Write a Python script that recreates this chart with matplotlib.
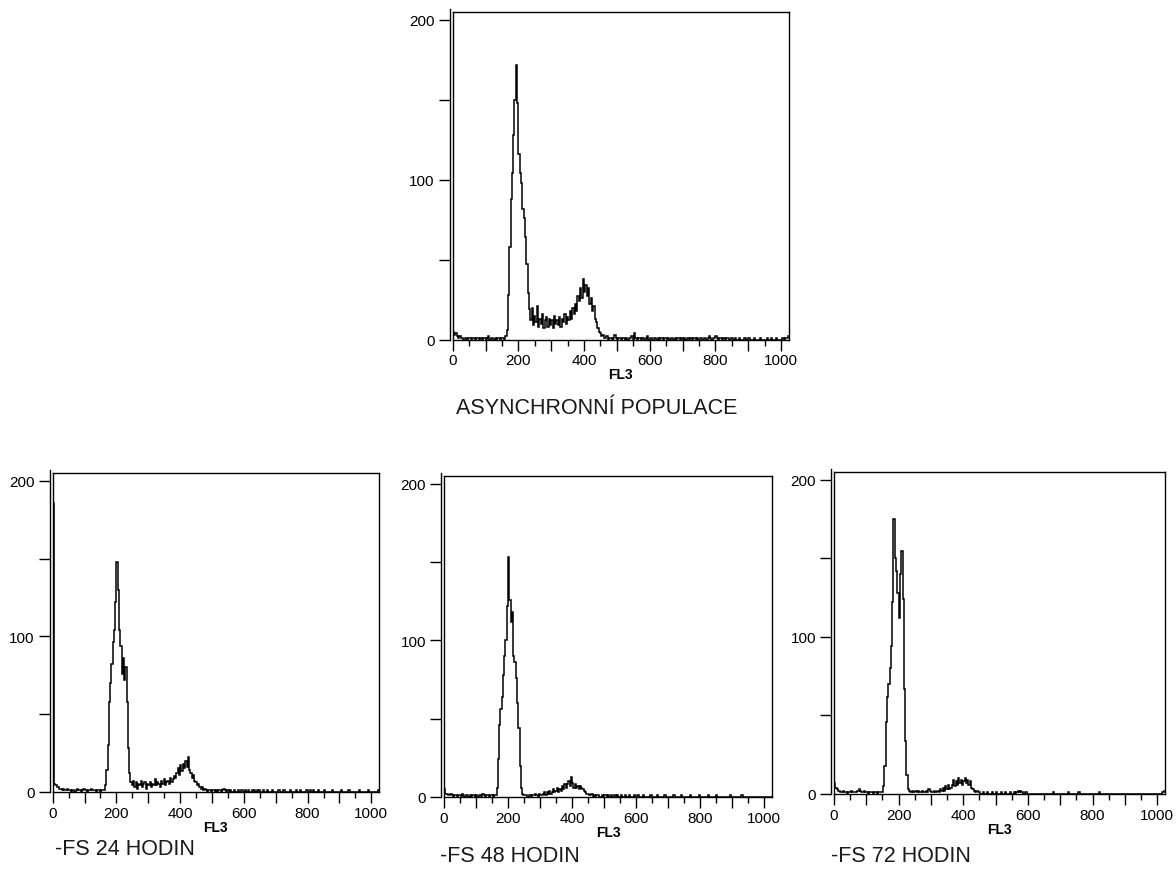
import numpy as np
import matplotlib.pyplot as plt
from matplotlib.ticker import MultipleLocator

plt.rcParams['font.family'] = ['Liberation Sans', 'DejaVu Sans']

# FL3 channel axis, histograms binned by 4 channels (256 bins)
edges = np.arange(0, 1025, 4)

asyn = [
    5, 3, 4, 2, 1, 2, 1, 1, 0, 1, 1, 0, 1, 1, 0, 1,
    1, 0, 1, 1, 0, 1, 0, 1, 1, 0, 1, 2, 0, 1, 1, 0,
    1, 0, 1, 1, 0, 1, 1, 0, 2, 6, 28, 58, 88, 104, 128, 150,
    172, 148, 116, 104, 98, 82, 76, 64, 47, 29, 19, 12, 20, 9, 15, 11,
    21, 8, 13, 10, 16, 7, 12, 14, 8, 13, 9, 12, 7, 15, 10, 12,
    9, 14, 8, 13, 11, 16, 10, 14, 12, 18, 13, 20, 16, 22, 18, 27,
    24, 32, 26, 38, 30, 34, 27, 32, 22, 26, 18, 21, 13, 11, 7, 5,
    4, 2, 3, 1, 1, 2, 0, 1, 1, 0, 1, 3, 1, 0, 1, 1,
    0, 1, 1, 0, 1, 0, 1, 1, 2, 0, 4, 1, 0, 1, 1, 0,
    1, 1, 0, 1, 2, 0, 1, 1, 0, 1, 1, 0, 1, 0, 1, 1,
    0, 1, 1, 0, 1, 0, 1, 1, 0, 1, 0, 1, 1, 0, 1, 0,
    1, 0, 1, 1, 0, 1, 0, 1, 1, 0, 1, 0, 1, 1, 0, 1,
    1, 0, 1, 2, 1, 0, 1, 1, 2, 1, 0, 1, 1, 0, 1, 0,
    1, 1, 0, 0, 1, 0, 0, 1, 0, 0, 1, 0, 0, 0, 1, 0,
    0, 1, 0, 0, 0, 1, 0, 0, 0, 0, 1, 0, 0, 0, 0, 1,
    0, 0, 1, 0, 0, 0, 1, 0, 0, 0, 0, 1, 0, 1, 1, 2,
]

h24 = [
    186, 5, 4, 3, 3, 2, 2, 1, 2, 1, 1, 2, 1, 1, 0, 1,
    1, 0, 1, 2, 1, 1, 0, 1, 2, 1, 1, 0, 1, 1, 2, 1,
    1, 1, 0, 1, 1, 0, 1, 1, 1, 4, 14, 30, 58, 70, 82, 96,
    104, 122, 148, 130, 104, 94, 76, 86, 72, 80, 58, 28, 12, 6, 4, 7,
    3, 6, 2, 5, 4, 7, 3, 5, 6, 2, 5, 4, 6, 3, 5, 4,
    8, 4, 6, 5, 3, 7, 5, 8, 4, 6, 7, 5, 9, 6, 8, 10,
    9, 12, 15, 11, 17, 13, 18, 15, 20, 16, 22, 14, 12, 9, 11, 7,
    6, 4, 5, 3, 2, 3, 1, 2, 1, 0, 1, 1, 0, 1, 1, 0,
    1, 0, 1, 1, 0, 1, 2, 1, 0, 1, 0, 1, 0, 0, 1, 0,
    0, 1, 0, 0, 1, 0, 0, 1, 0, 1, 0, 0, 1, 0, 1, 0,
    1, 0, 1, 0, 0, 1, 0, 0, 1, 0, 0, 0, 1, 0, 0, 0,
    0, 1, 0, 0, 0, 1, 0, 0, 0, 0, 1, 0, 0, 0, 0, 1,
    0, 0, 1, 0, 0, 0, 0, 1, 0, 0, 1, 0, 1, 0, 0, 0,
    1, 0, 0, 0, 0, 1, 0, 0, 0, 0, 0, 1, 0, 0, 0, 0,
    0, 0, 1, 0, 0, 0, 0, 0, 1, 0, 0, 0, 0, 0, 0, 0,
    1, 0, 0, 0, 0, 0, 0, 1, 0, 0, 0, 0, 0, 0, 0, 1,
]

h48 = [
    5, 2, 2, 1, 1, 2, 1, 0, 1, 1, 0, 1, 1, 0, 2, 1,
    0, 1, 1, 0, 1, 0, 1, 1, 0, 1, 0, 1, 1, 0, 2, 1,
    0, 1, 1, 0, 1, 1, 0, 1, 1, 6, 24, 46, 56, 64, 78, 90,
    100, 122, 153, 126, 112, 118, 90, 86, 76, 60, 44, 20, 6, 2, 1, 1,
    1, 0, 1, 1, 0, 1, 1, 2, 1, 0, 2, 1, 1, 2, 3, 1,
    3, 2, 4, 2, 3, 5, 3, 4, 6, 3, 5, 4, 7, 5, 8, 6,
    8, 10, 7, 13, 9, 6, 8, 6, 7, 5, 7, 6, 5, 4, 3, 2,
    2, 1, 1, 2, 0, 1, 0, 1, 1, 0, 0, 1, 0, 1, 1, 0,
    1, 0, 1, 0, 0, 1, 0, 1, 0, 0, 1, 0, 0, 1, 0, 0,
    1, 0, 0, 0, 1, 0, 0, 1, 0, 0, 0, 1, 0, 0, 0, 0,
    0, 1, 0, 0, 0, 0, 1, 0, 0, 0, 0, 0, 1, 0, 0, 0,
    0, 0, 0, 1, 0, 0, 0, 0, 0, 1, 0, 0, 0, 0, 0, 0,
    1, 0, 0, 0, 0, 0, 0, 1, 0, 0, 0, 0, 0, 0, 1, 0,
    0, 0, 0, 0, 1, 0, 0, 0, 0, 0, 0, 0, 0, 0, 0, 1,
    0, 0, 0, 0, 0, 0, 0, 0, 1, 0, 0, 0, 0, 0, 0, 0,
    0, 0, 0, 0, 0, 0, 0, 0, 0, 0, 0, 0, 0, 0, 0, 0,
]

h72 = [
    7, 4, 3, 2, 2, 1, 1, 2, 1, 1, 0, 1, 1, 2, 1, 1,
    1, 1, 2, 3, 2, 1, 1, 2, 1, 1, 0, 1, 1, 1, 0, 1,
    1, 0, 1, 1, 1, 1, 5, 18, 46, 62, 70, 80, 94, 122, 175, 150,
    142, 128, 112, 140, 155, 124, 67, 34, 12, 3, 2, 1, 2, 1, 1, 2,
    1, 2, 1, 1, 2, 1, 1, 2, 1, 3, 2, 1, 1, 2, 1, 1,
    2, 1, 3, 2, 4, 2, 5, 3, 6, 3, 4, 6, 9, 5, 8, 6,
    10, 7, 9, 6, 8, 10, 7, 9, 6, 8, 4, 3, 2, 1, 2, 1,
    1, 0, 0, 1, 0, 0, 1, 0, 0, 0, 1, 0, 0, 1, 0, 0,
    0, 1, 0, 0, 1, 0, 0, 0, 1, 0, 0, 1, 0, 1, 2, 1,
    2, 1, 0, 0, 1, 0, 0, 0, 0, 0, 0, 0, 0, 0, 0, 0,
    0, 0, 0, 0, 0, 0, 0, 0, 0, 1, 0, 0, 0, 0, 0, 0,
    0, 0, 0, 0, 0, 1, 0, 0, 0, 0, 0, 0, 0, 1, 0, 0,
    0, 0, 0, 0, 0, 0, 0, 0, 0, 0, 0, 0, 0, 1, 0, 0,
    0, 0, 0, 0, 0, 0, 0, 0, 0, 0, 0, 0, 0, 0, 0, 0,
    0, 0, 0, 0, 0, 0, 0, 0, 0, 0, 0, 0, 0, 0, 0, 0,
    0, 0, 0, 0, 0, 0, 0, 0, 0, 0, 0, 0, 0, 0, 1, 2,
]

titles = ['ASYNCHRONNÍ POPULACE', '-FS 24 HODIN', '-FS 48 HODIN', '-FS 72 HODIN']

W, H = 1176, 870
fig = plt.figure(figsize=(W / 100, H / 100), dpi=100)


def px_rect(left, top, right, bottom):
    return [left / W, 1 - bottom / H, (right - left) / W, (bottom - top) / H]


def histo(rect, counts):
    ax = fig.add_axes(rect)
    ax.stairs(counts, edges, color='black', lw=1.1, baseline=None)
    ax.set_xlim(0, 1024)
    ax.set_ylim(0, 205)

    for s in ax.spines.values():
        s.set_linewidth(1.0)
    # y axis line sits just outside the frame and runs a bit above it
    ax.spines['left'].set_position(('outward', 2))
    ax.spines['left'].set_bounds(0, 207)
    ax.axvline(0, color='black', lw=1.0, clip_on=False)

    ax.set_yticks([0, 50, 100, 150, 200])
    ax.set_yticklabels(['0', '', '100', '', '200'])
    ax.xaxis.set_minor_locator(MultipleLocator(50))
    ax.set_xticks(range(0, 1001, 100))
    ax.set_xticklabels([str(v) if v % 200 == 0 else '' for v in range(0, 1001, 100)])

    ax.tick_params(axis='y', direction='out', length=8, width=1, pad=3, labelsize=11)
    ax.tick_params(axis='x', which='major', direction='out', length=8, width=1, pad=2, labelsize=11)
    ax.tick_params(axis='x', which='minor', direction='out', length=4, width=1)
    ax.set_xlabel('FL3', fontsize=10, fontweight='bold', labelpad=0)
    return ax


histo(px_rect(452.7, 13, 789, 340.5), asyn)
histo(px_rect(52.7, 474, 379, 792.7), h24)
histo(px_rect(444, 477, 772, 798), h48)
histo(px_rect(834, 473, 1165, 795), h72)

fig.text(597 / W, 1 - 409 / H, titles[0], ha='center', va='center', fontsize=15.5, color='#1a1a1a')
fig.text(55 / W, 1 - 850 / H, titles[1], ha='left', va='center', fontsize=15.5, color='#1a1a1a')
fig.text(440 / W, 1 - 857 / H, titles[2], ha='left', va='center', fontsize=15.5, color='#1a1a1a')
fig.text(831 / W, 1 - 857 / H, titles[3], ha='left', va='center', fontsize=15.5, color='#1a1a1a')

fig.savefig('out.png', dpi=100, facecolor='white')
